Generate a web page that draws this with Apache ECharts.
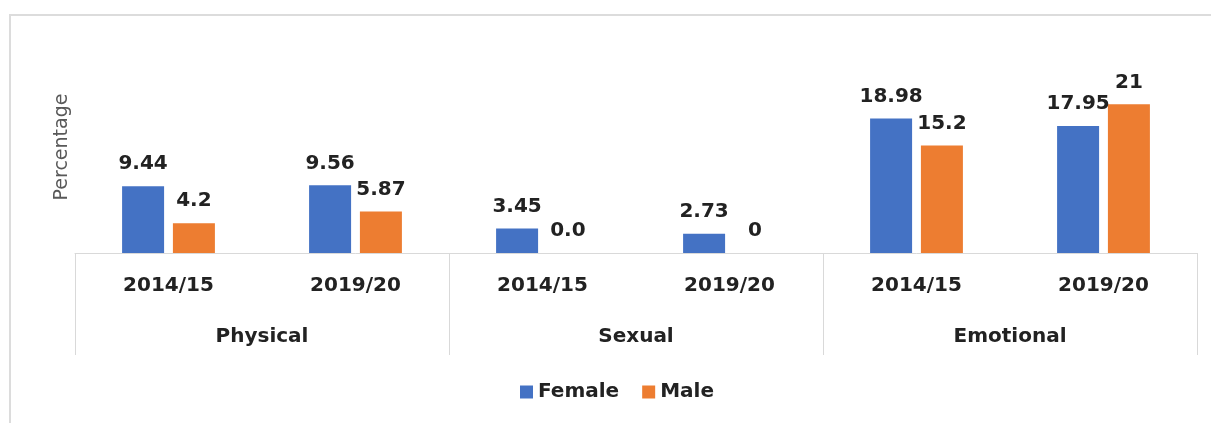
<!DOCTYPE html>
<html>
<head>
<meta charset="utf-8">
<script src="https://cdn.jsdelivr.net/npm/echarts@6/dist/echarts.min.js"></script>
<style>
  html, body { margin: 0; padding: 0; background: #ffffff; }
  #chart { width: 1211px; height: 423px; }
</style>
</head>
<body>
<div id="chart"></div>
<script>
// ---- data ----
const years = ['2014/15', '2019/20', '2014/15', '2019/20', '2014/15', '2019/20'];
const groups = ['Physical', 'Sexual', 'Emotional'];
const femaleValues = [9.44, 9.56, 3.45, 2.73, 18.98, 17.95];
const maleValues = [4.2, 5.87, 0, 0, 15.2, 21];
const femaleLabels = ['9.44', '9.56', '3.45', '2.73', '18.98', '17.95'];
const maleLabels = ['4.2', '5.87', '0.0', '0', '15.2', '21'];
const seriesNames = ['Female', 'Male'];
const yAxisName = 'Percentage';

const FONT = 'DejaVu Sans';
const TEXT = '#222222';
const GRID = '#d9d9d9';

const chart = echarts.init(document.getElementById('chart'), null, { renderer: 'canvas' });

const labelStyle = (labels) => ({
  show: true,
  position: 'top',
  distance: 12,
  formatter: (p) => labels[p.dataIndex],
  fontFamily: FONT,
  fontWeight: 'bold',
  fontSize: 20,
  color: TEXT
});

chart.setOption({
  animation: false,
  backgroundColor: '#ffffff',
  graphic: [
    {
      type: 'rect',
      shape: { x: 10, y: 15, width: 1400, height: 600 },
      style: { fill: 'none', stroke: '#dcdcdc', lineWidth: 2 },
      silent: true
    },
    {
      type: 'text',
      x: 62,
      y: 147,
      rotation: Math.PI / 2,
      style: {
        text: yAxisName,
        fill: '#595959',
        font: '19px "DejaVu Sans"',
        align: 'center',
        verticalAlign: 'middle'
      },
      silent: true
    }
  ],
  grid: { left: 75, right: 14, top: 76, bottom: 170, containLabel: false },
  legend: {
    data: seriesNames,
    left: 515,
    top: 377,
    icon: 'rect',
    itemWidth: 13,
    itemHeight: 13,
    itemGap: 23,
    textStyle: { fontFamily: FONT, fontWeight: 'bold', fontSize: 20, color: TEXT }
  },
  xAxis: [
    {
      type: 'category',
      data: years,
      position: 'bottom',
      axisLine: { show: true, lineStyle: { color: GRID, width: 1 } },
      axisTick: { show: false },
      axisLabel: { margin: 23, fontFamily: FONT, fontWeight: 'bold', fontSize: 20, color: TEXT },
      splitLine: { show: false }
    },
    {
      type: 'category',
      data: groups,
      position: 'bottom',
      axisLine: { show: false },
      axisTick: { show: true, length: 102, lineStyle: { color: GRID, width: 1 } },
      axisLabel: { margin: 74, fontFamily: FONT, fontWeight: 'bold', fontSize: 20, color: TEXT },
      splitLine: { show: false }
    }
  ],
  yAxis: {
    type: 'value',
    min: 0,
    max: 25,
    interval: 5,
    axisLine: { show: false },
    axisTick: { show: false },
    axisLabel: { show: false },
    splitLine: { show: false }
  },
  series: [
    {
      name: seriesNames[0],
      type: 'bar',
      xAxisIndex: 0,
      data: femaleValues,
      barWidth: 42,
      barGap: '21%',
      itemStyle: { color: '#4472C4' },
      label: labelStyle(femaleLabels)
    },
    {
      name: seriesNames[1],
      type: 'bar',
      xAxisIndex: 0,
      data: maleValues,
      barWidth: 42,
      barGap: '21%',
      itemStyle: { color: '#ED7D31' },
      label: labelStyle(maleLabels)
    }
  ]
});
</script>
</body>
</html>
